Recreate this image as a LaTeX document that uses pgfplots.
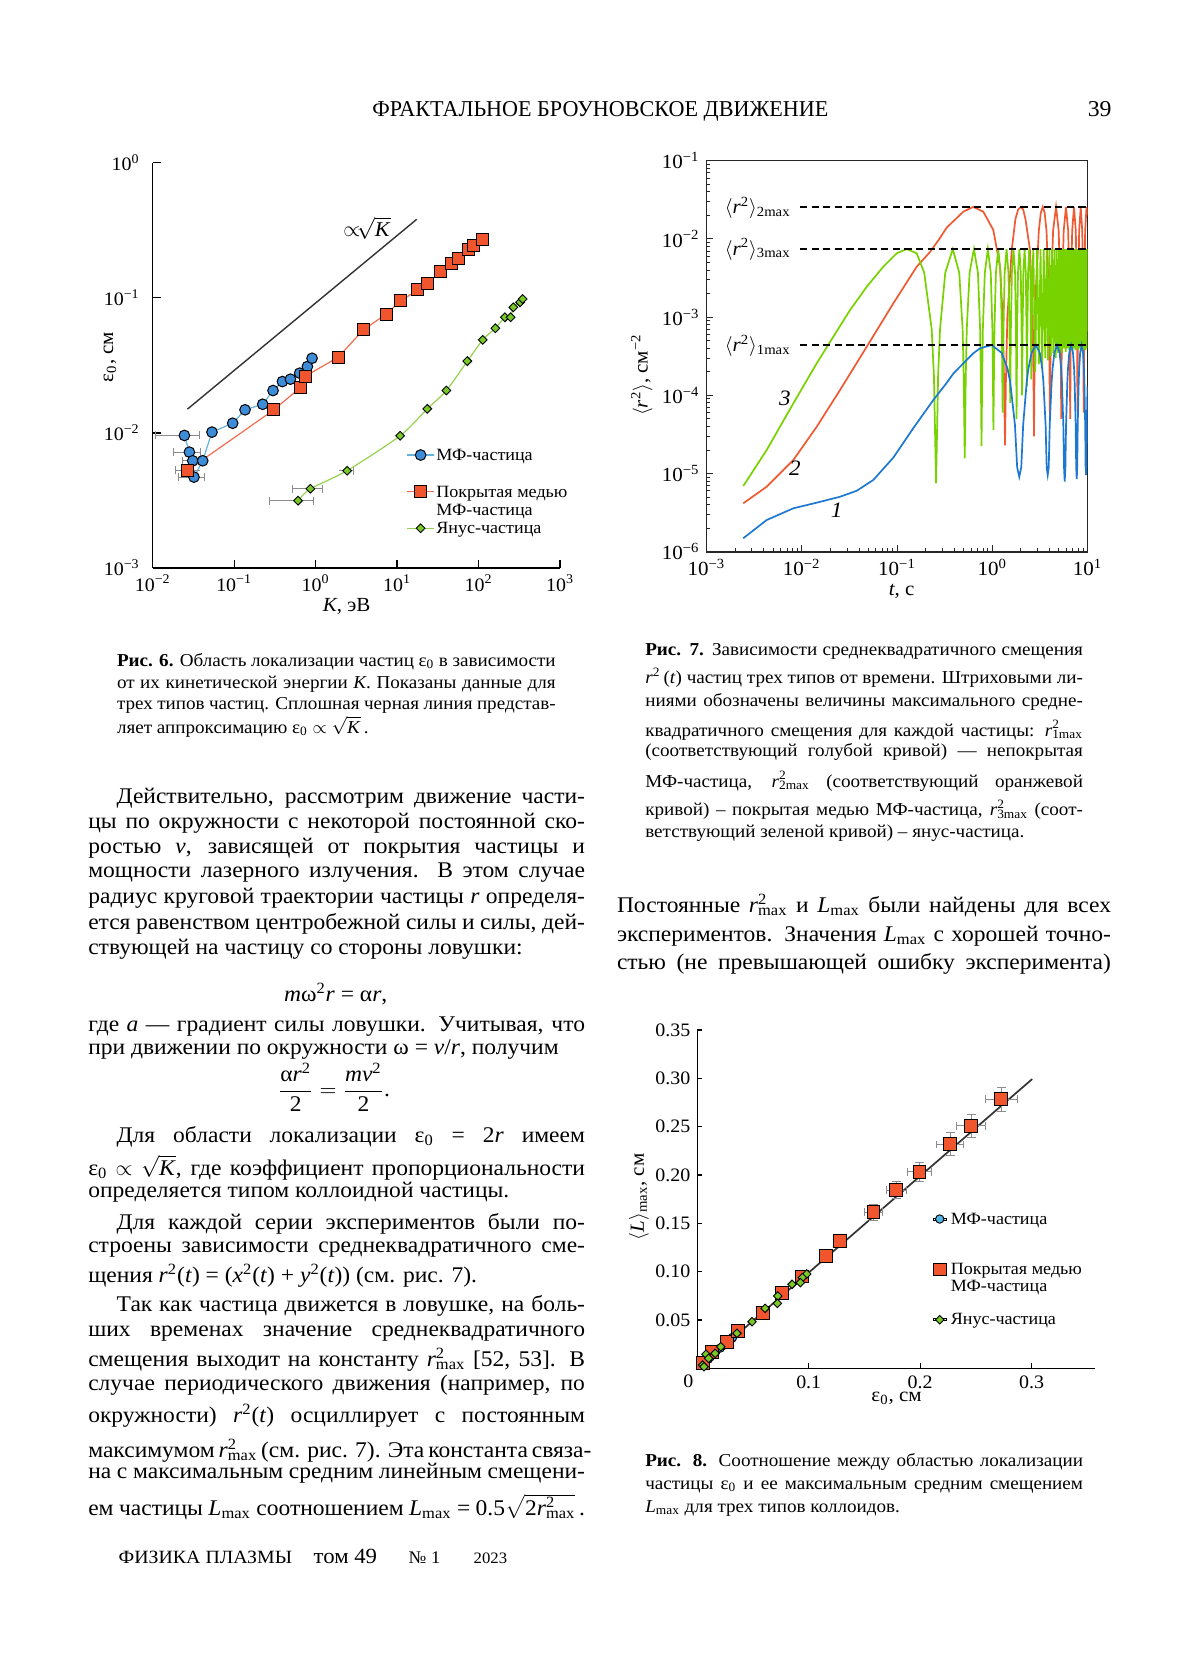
\documentclass[border=0pt]{standalone}
\usepackage{fontspec}
\setmainfont[FakeStretch=1.05]{Liberation Serif}
\usepackage{graphicx}
\usepackage{pgfplots}
\pgfplotsset{compat=1.18}

\definecolor{fblue}{HTML}{3C8CD7}
\definecolor{fblueL}{HTML}{64B4E1}
\definecolor{forange}{HTML}{F0552D}
\definecolor{forangeL}{HTML}{F06E50}
\definecolor{fgreen}{HTML}{78C828}
\definecolor{fgreenL}{HTML}{96D250}
\definecolor{cgreen}{HTML}{78D200}
\definecolor{corange}{HTML}{F05A32}
\definecolor{cblue}{HTML}{1E78D2}
\definecolor{lblue}{HTML}{50B4E6}

\newcommand\bodyf{\fontsize{11.2bp}{13.5bp}\selectfont}
\newcommand\capf{\fontsize{9.1bp}{11bp}\selectfont}
\newcommand\TF{\bodyf}
\newcommand\J[4]{\node[anchor=base west,inner sep=0pt,outer sep=0pt] at (#1,-#2) {\TF\makebox[#3][s]{#4}};}
\newcommand\Lt[3]{\node[anchor=base west,inner sep=0pt,outer sep=0pt] at (#1,-#2) {\TF #3};}
\newcommand\rmx[1]{\textit{r}\rlap{\textsuperscript{2}}\textsubscript{#1max}}
\newcommand\Lmax{\textit{L}\textsubscript{max}}
\newcommand\ez{ε\textsubscript{0}}
\newcommand\sK{$\sqrt{\mbox{\textit{K}}}$}
\newcommand\tlf{\fontsize{9.5bp}{10bp}\selectfont}

\begin{document}
\begin{tikzpicture}[x=0.5bp,y=0.5bp]
\fill[white] (0,0) rectangle (1200,-1669);

% ---------------- header / footer
\node[anchor=base west,inner sep=0pt] at (372,-116) {\resizebox{228bp}{7.5bp}{ФРАКТАЛЬНОЕ БРОУНОВСКОЕ ДВИЖЕНИЕ}};
\node[anchor=base east,inner sep=0pt] at (1112,-116) {\resizebox{!}{7.5bp}{39}};
\node[anchor=base west,inner sep=0pt] at (118.3,-1563) {\resizebox{86.7bp}{6.2bp}{ФИЗИКА ПЛАЗМЫ}};
\node[anchor=base west,inner sep=0pt] at (313.3,-1563) {\resizebox{31.7bp}{!}{том 49}};
\node[anchor=base west,inner sep=0pt] at (408.3,-1563) {\resizebox{15.85bp}{!}{№ 1}};
\node[anchor=base west,inner sep=0pt] at (473.3,-1563) {\resizebox{16.7bp}{!}{2023}};

% ---------------- Fig. 6
\begin{axis}[
  at={(76.35bp,-284bp)}, anchor=south west, scale only axis,
  width=203.65bp, height=202.65bp,
  xmode=log, ymode=log, xmin=1e-2, xmax=1e3, ymin=1e-3, ymax=1,
  axis x line*=bottom, axis y line*=left,
  x axis line style={-}, y axis line style={-},
  axis line style={line width=0.7bp, black},
  tick align=inside, major tick length=4bp,
  minor tick style={draw=none},
  every tick/.style={black, line width=0.6bp},
  xtick={1e-2,1e-1,1,10,100,1000},
  xticklabels={10\textsuperscript{−2},10\textsuperscript{−1},10\textsuperscript{0},10\textsuperscript{1},10\textsuperscript{2},10\textsuperscript{3}},
  ytick={1e-3,1e-2,1e-1,1},
  yticklabels={10\textsuperscript{−3},10\textsuperscript{−2},10\textsuperscript{−1},10\textsuperscript{0}},
  tick label style={font=\tlf},
  yticklabel style={xshift=-3bp},
  xlabel={\textit{K}, эВ}, ylabel={\ez, см},
  label style={font=\fontsize{10bp}{11bp}\selectfont},
  xlabel style={at={(axis description cs:0.476,-0.0955)}, anchor=center},
  ylabel style={at={(axis description cs:-0.105,0.521)}, anchor=center},
  legend style={at={(0.6236,0.3014)}, anchor=north west, draw=none, fill=none,
    inner sep=0pt, outer sep=0pt, row sep=0pt, column sep=0.85bp,
    font=\fontsize{8.6bp}{9bp}\selectfont,
    nodes={inner sep=0pt, text height=7.425bp, text depth=1.725bp}},
  legend cell align=left,
  legend image code/.code={\draw[mark repeat=2,mark phase=2,#1] plot coordinates {(0bp,0bp) (6.675bp,0bp) (13.35bp,0bp)};},
  unbounded coords=jump,
]
% horizontal error bars (bar + caps)
\addplot[black!45, line width=0.5bp, forget plot] coordinates {
 (0.0107,0.00958) (0.0374,0.00958) (nan,nan) (0.0107,0.00895) (0.0107,0.01025) (nan,nan) (0.0374,0.00895) (0.0374,0.01025) (nan,nan)
 (0.01795,0.00721) (0.0381,0.00721) (nan,nan) (0.01795,0.00674) (0.01795,0.00771) (nan,nan) (0.0381,0.00674) (0.0381,0.00771) (nan,nan)
 (0.0233,0.00622) (0.0381,0.00622) (nan,nan) (0.0233,0.00581) (0.0233,0.00666) (nan,nan)
 (0.0206,0.00471) (0.0427,0.00471) (nan,nan) (0.0206,0.0044) (0.0206,0.00504) (nan,nan) (0.0427,0.0044) (0.0427,0.00504) (nan,nan)
 (0.0193,0.00528) (0.0381,0.00528) (nan,nan) (0.0193,0.00493) (0.0193,0.00565) (nan,nan)
 (0.275,0.00315) (0.938,0.00315) (nan,nan) (0.275,0.00294) (0.275,0.00337) (nan,nan) (0.938,0.00294) (0.938,0.00337) (nan,nan)
 (0.518,0.00386) (1.21,0.00386) (nan,nan) (0.518,0.00361) (0.518,0.00413) (nan,nan) (1.21,0.00361) (1.21,0.00413) (nan,nan)
 (1.94,0.00525) (2.90,0.00525) (nan,nan) (2.90,0.00491) (2.90,0.00562)
 };
\addplot[fblueL, line width=0.6bp, mark=*, mark size=2.67bp, mark options={fill=fblue, draw=black, line width=0.5bp}] coordinates {
 (0.0245,0.00958) (0.0282,0.00721) (0.0310,0.00622) (0.0321,0.00471) (0.0411,0.00622)
 (0.0534,0.01014) (0.0959,0.0118) (0.136,0.01483) (0.224,0.0163) (0.300,0.0206)
 (0.391,0.0240) (0.490,0.0250) (0.637,0.0277) (0.792,0.0310) (0.904,0.0357)};
\addlegendentry{МФ-частица}
\addlegendimage{empty legend}\addlegendentry{}
\addplot[forangeL, line width=0.6bp, mark=square*, mark size=3bp, mark options={fill=forange, draw=black, line width=0.5bp}] coordinates {
 (0.0267,0.00528) (0.308,0.01483) (0.656,0.0218) (0.741,0.0262) (1.90,0.0364)
 (3.85,0.0579) (7.31,0.0756) (11.07,0.0948) (17.9,0.1144) (23.3,0.1267)
 (34.3,0.1563) (46.8,0.178) (56.5,0.196) (75,0.226) (87.9,0.246) (111.4,0.268)};
\addlegendentry{Покрытая медью}
\addlegendimage{empty legend}\addlegendentry{МФ-частица}
\addplot[fgreenL, line width=0.6bp, smooth, tension=0.4, mark=square*, mark size=1.55bp, mark options={rotate=45, fill=fgreen, draw=black, line width=0.45bp}] coordinates {
 (0.608,0.00315) (0.861,0.00386) (2.43,0.00525) (10.9,0.00952) (23.5,0.01508)
 (40.3,0.0206) (72.9,0.0340) (112.5,0.0489) (160.7,0.0596) (211,0.0718)
 (248,0.0718) (267,0.0851) (323,0.0927) (348,0.0981)};
\addlegendentry{Янус-частица}
\addplot[black!80, line width=0.7bp, forget plot] coordinates {(0.0267,0.0150) (17.4,0.381)};
\end{axis}
\node[font=\fontsize{10.5bp}{11bp}\selectfont] at (367,-228) {$\propto\!$\sK};

% ---------------- Fig. 7
\begin{axis}[
  at={(353.25bp,-275.9bp)}, anchor=south west, scale only axis,
  width=190.5bp, height=195.55bp,
  xmode=log, ymode=log, xmin=1e-3, xmax=10, ymin=1e-6, ymax=0.1,
  axis line style={line width=0.7bp, black!85},
  tick pos=left, tick align=inside,
  major tick length=3.3bp, minor tick length=1.8bp,
  every tick/.style={black!85, line width=0.5bp},
  xtick={1e-3,1e-2,1e-1,1,10},
  xticklabels={10\textsuperscript{−3},10\textsuperscript{−2},10\textsuperscript{−1},10\textsuperscript{0},10\textsuperscript{1}},
  ytick={1e-6,1e-5,1e-4,1e-3,1e-2,1e-1},
  yticklabels={10\textsuperscript{−6},10\textsuperscript{−5},10\textsuperscript{−4},10\textsuperscript{−3},10\textsuperscript{−2},10\textsuperscript{−1}},
  tick label style={font=\fontsize{10bp}{11bp}\selectfont},
  xlabel={\textit{t}, с}, ylabel={$\langle$\textit{r}\textsuperscript{2}$\rangle$, см\textsuperscript{−2}},
  label style={font=\fontsize{10bp}{11bp}\selectfont},
  xlabel style={at={(axis description cs:0.512,-0.1002)}, anchor=center},
  ylabel style={at={(axis description cs:-0.17,0.452)}, anchor=center},
]
\addplot[corange, line width=0.85bp] coordinates {
 (0.00243,4.17e-6) (0.00428,6.8e-6) (0.00815,1.49e-5) (0.01435,3.97e-5) (0.0252,1.17e-4)
 (0.0481,4.19e-4) (0.0914,1.5e-3) (0.161,4.42e-3) (0.222,6.8e-3) (0.278,0.0100)
 (0.333,0.0140) (0.497,0.0223) (0.632,0.0257) (0.805,0.0223) (1.026,0.013)
 (1.206,4.4e-3) (1.286,1.0e-3) (1.33,1.5e-4) (1.36,2.3e-5) (1.39,1.5e-4) (1.44,1.0e-3)
 (1.60,7.2e-3) (1.75,0.0180) (1.87,0.0237) (1.99,0.0257) (2.11,0.0237) (2.23,0.0180)
 (2.49,7.2e-3) (2.66,1.0e-3) (2.71,1.5e-4) (2.74,3.0e-5) (2.77,1.5e-4) (2.82,1.0e-3)
 (2.876,2.4e-3) (3.08,0.0127) (3.23,0.0215) (3.39,0.0257) (3.55,0.0215) (3.71,0.0127)
 (3.90,2.4e-3) (3.966,6e-4) (4.004,1e-4) (4.03,4.8e-5) (4.056,1e-4) (4.094,6e-4)
 (4.158,2.4e-3) (4.35,0.0127) (4.67,0.0257) (4.98,0.0127) (5.172,2.4e-3) (5.236,6e-4)
 (5.274,1e-4) (5.30,5e-5) (5.326,1e-4) (5.364,6e-4) (5.428,2.4e-3) (5.62,0.0127)
 (5.94,0.0257) (6.26,0.0127) (6.452,2.4e-3) (6.516,6e-4) (6.554,1e-4) (6.58,5e-5)
 (6.606,1e-4) (6.644,6e-4) (6.708,2.4e-3) (6.90,0.0127) (7.21,0.0257) (7.53,0.0127)
 (7.722,2.4e-3) (7.786,6e-4) (7.824,1e-4) (7.85,6e-5) (7.876,1e-4) (7.914,6e-4)
 (7.978,2.4e-3) (8.17,0.0127) (8.48,0.0257) (8.80,0.0127) (8.992,2.4e-3) (9.056,6e-4)
 (9.094,1e-4) (9.12,6e-5) (9.146,1e-4) (9.184,6e-4) (9.248,2.4e-3) (9.44,0.0127)
 (9.76,0.0257) (10,0.02)};
\addplot[cgreen, line width=0.85bp] coordinates {
 (0.00243,6.93e-6) (0.00428,2.0e-5) (0.00815,7.9e-5) (0.01435,2.57e-4) (0.0214,5.6e-4)
 (0.0321,1.23e-3) (0.0481,2.45e-3) (0.0718,4.42e-3) (0.0993,6.55e-3) (0.1265,7.43e-3)
 (0.161,6.55e-3) (0.193,3.7e-3) (0.231,7.1e-4) (0.244,1.8e-4) (0.257,7.5e-6) (0.270,1.8e-4)
 (0.283,7.1e-4) (0.321,3.7e-3) (0.385,7.43e-3)
 (0.450,3.7e-3) (0.488,7.1e-4) (0.501,1.8e-4) (0.514,1.57e-5) (0.527,1.8e-4) (0.540,7.1e-4) (0.578,3.7e-3) (0.642,7.43e-3)
 (0.707,3.7e-3) (0.745,7.1e-4) (0.758,1.8e-4) (0.771,2.25e-5) (0.784,1.8e-4) (0.797,7.1e-4) (0.835,3.7e-3) (0.899,7.43e-3)
 (0.964,3.7e-3) (1.002,7.1e-4) (1.015,1.8e-4) (1.028,3.6e-5) (1.041,1.8e-4) (1.054,7.1e-4) (1.092,3.7e-3) (1.156,7.43e-3)
 (1.221,3.7e-3) (1.259,7.1e-4) (1.272,2.0e-4) (1.285,6e-5) (1.298,2.0e-4) (1.311,7.1e-4) (1.349,3.7e-3) (1.413,7.43e-3)
 (1.478,3.7e-3) (1.516,7.1e-4) (1.542,8e-5) (1.568,7.1e-4) (1.606,3.7e-3) (1.670,7.43e-3)
 (1.735,3.7e-3) (1.773,7.1e-4) (1.799,5e-5) (1.825,7.1e-4) (1.863,3.7e-3) (1.927,7.43e-3)
 (1.992,3.7e-3) (2.030,7.1e-4) (2.056,1e-4) (2.082,7.1e-4) (2.120,3.7e-3) (2.184,7.43e-3)
 (2.249,3.7e-3) (2.287,7.1e-4) (2.313,1.3e-4) (2.339,7.1e-4) (2.377,3.7e-3) (2.441,7.43e-3)
 (2.506,3.7e-3) (2.544,7.1e-4) (2.570,1.6e-4) (2.596,7.1e-4) (2.634,3.7e-3) (2.698,7.43e-3)
 (2.827,2e-4) (2.955,7.43e-3) (3.084,2.5e-4) (3.212,7.43e-3) (3.341,2.2e-4) (3.469,7.43e-3)
 (3.598,3e-4) (3.726,7.43e-3) (3.855,2.8e-4) (3.983,7.43e-3) (4.112,3.2e-4) (4.240,7.43e-3)
 (4.369,3.5e-4) (4.497,7.43e-3) (4.626,3e-4) (4.754,7.43e-3) (4.883,3.5e-4) (5.011,7.43e-3)
 (5.140,3.8e-4) (5.268,7.43e-3) (5.397,3.5e-4) (5.525,7.43e-3) (5.654,4e-4) (5.782,7.43e-3)
 (5.911,3.6e-4) (6.039,7.43e-3) (6.168,4e-4) (6.296,7.43e-3) (6.425,3.8e-4) (6.553,7.43e-3)
 (6.682,4e-4) (6.810,7.43e-3) (6.939,3.7e-4) (7.067,7.43e-3) (7.196,4e-4) (7.324,7.43e-3)
 (7.453,3.8e-4) (7.581,7.43e-3) (7.710,4e-4) (7.838,7.43e-3) (7.967,3.8e-4) (8.095,7.43e-3)
 (8.224,4e-4) (8.352,7.43e-3) (8.481,3.8e-4) (8.609,7.43e-3) (8.738,4e-4) (8.866,7.43e-3)
 (8.995,3.8e-4) (9.123,7.43e-3) (9.252,4e-4) (9.380,7.43e-3) (9.509,3.8e-4) (9.637,7.43e-3)
 (9.766,4e-4) (9.894,7.43e-3) (10,3e-3)};
\addplot[cblue, line width=0.85bp] coordinates {
 (0.00243,1.49e-6) (0.00428,2.55e-6) (0.00815,3.6e-6) (0.01435,4.25e-6) (0.0252,5.06e-6)
 (0.0378,6.04e-6) (0.0564,8.3e-6) (0.0914,1.6e-5) (0.148,3.8e-5) (0.240,8.7e-5)
 (0.333,1.45e-4) (0.390,1.9e-4) (0.497,2.57e-4) (0.632,3.45e-4) (0.743,4.0e-4) (0.987,4.4e-4)
 (1.255,3.5e-4) (1.445,2.2e-4) (1.54,1.5e-4) (1.73,4.2e-5) (1.825,1.2e-5) (1.92,9.1e-6)
 (2.015,1.2e-5) (2.11,4.2e-5) (2.30,1.5e-4) (2.395,2.2e-4) (2.585,3.5e-4) (2.87,4.4e-4)
 (3.155,3.5e-4) (3.345,2.2e-4) (3.44,1.5e-4) (3.63,4.2e-5) (3.725,1.2e-5) (3.82,9.6e-6)
 (3.915,1.2e-5) (4.01,4.2e-5) (4.20,1.5e-4) (4.295,2.2e-4) (4.485,3.5e-4) (4.79,4.4e-4)
 (5.095,3.5e-4) (5.285,2.2e-4) (5.38,1.5e-4) (5.57,4.2e-5) (5.665,1.2e-5) (5.76,7.9e-6)
 (5.855,1.2e-5) (5.95,4.2e-5) (6.14,1.5e-4) (6.235,2.2e-4) (6.425,3.5e-4) (6.73,4.4e-4)
 (7.035,3.5e-4) (7.225,2.2e-4) (7.32,1.5e-4) (7.51,4.2e-5) (7.605,1.2e-5) (7.70,8.5e-6)
 (7.795,1.2e-5) (7.89,4.2e-5) (8.08,1.5e-4) (8.175,2.2e-4) (8.365,3.5e-4) (8.67,4.4e-4)
 (8.975,3.5e-4) (9.165,2.2e-4) (9.26,1.5e-4) (9.45,4.2e-5) (9.545,1.2e-5) (9.64,9.6e-6)
 (9.735,1.2e-5) (9.83,4.2e-5) (10,1.3e-4)};
\addplot[black, line width=0.9bp, dash pattern=on 3.6bp off 2.2bp] coordinates {(0.0096,0.0259) (10,0.0259)};
\addplot[black, line width=0.9bp, dash pattern=on 3.6bp off 2.2bp] coordinates {(0.0096,0.00745) (10,0.00745)};
\addplot[black, line width=0.9bp, dash pattern=on 3.6bp off 2.2bp] coordinates {(0.0096,0.000444) (10,0.000444)};
\end{axis}
\begin{scope}[every node/.style={font=\fontsize{10bp}{11bp}\selectfont, inner sep=0pt}]
\node[anchor=base east] at (791,-213.3) {$\langle$\textit{r}\textsuperscript{2}$\rangle$\textsubscript{2max}};
\node[anchor=base east] at (791,-255) {$\langle$\textit{r}\textsuperscript{2}$\rangle$\textsubscript{3max}};
\node[anchor=base east] at (791,-351.7) {$\langle$\textit{r}\textsuperscript{2}$\rangle$\textsubscript{1max}};
\node[font=\fontsize{11bp}{12bp}\itshape] at (785,-398.3) {3};
\node[font=\fontsize{11bp}{12bp}\itshape] at (795,-468.3) {2};
\node[font=\fontsize{11bp}{12bp}\itshape] at (836.7,-510) {1};
\end{scope}

% ---------------- Fig. 8
\begin{axis}[
  at={(348.65bp,-684.15bp)}, anchor=south west, scale only axis,
  width=198.85bp, height=169.15bp,
  xmin=0, xmax=0.357, ymin=0, ymax=0.35,
  axis x line*=bottom, axis y line*=left,
  x axis line style={-}, y axis line style={-},
  axis line style={line width=0.7bp, black},
  tick align=inside, major tick length=2.5bp,
  every tick/.style={black, line width=0.6bp},
  xtick={0.1,0.2,0.3}, xticklabels={0.1,0.2,0.3},
  ytick={0.05,0.10,0.15,0.20,0.25,0.30,0.35},
  yticklabels={0.05,0.10,0.15,0.20,0.25,0.30,0.35},
  tick label style={font=\tlf},
  xlabel={\ez, см}, ylabel={$\langle$\textit{L}$\rangle$\textsubscript{max}, см},
  label style={font=\fontsize{10bp}{11bp}\selectfont},
  xlabel style={at={(axis description cs:0.501,-0.0878)}, anchor=center},
  ylabel style={at={(axis description cs:-0.147,0.507)}, anchor=center},
  legend style={at={(0.5919,0.4662)}, anchor=north west, draw=none, fill=none,
    inner sep=0pt, outer sep=0pt, row sep=0pt, column sep=2.05bp,
    font=\fontsize{8.6bp}{9bp}\selectfont,
    nodes={inner sep=0pt, text height=6.7bp, text depth=1.7bp}},
  legend cell align=left,
  legend image code/.code={\path (0bp,-0.5bp) rectangle (6.6bp,0.5bp); \draw[#1] plot coordinates {(3.3bp,0bp)};},
  unbounded coords=jump,
]
\addplot[black!80, line width=0.85bp, forget plot] coordinates {(0.0024,0.0017) (0.3006,0.2993)};
% error bars (bars + caps)
\addplot[black!45, line width=0.5bp, forget plot] coordinates {
 (0.2583,0.2783) (0.2873,0.2783) (nan,nan) (0.2728,0.2657) (0.2728,0.2909) (nan,nan)
 (0.2583,0.2743) (0.2583,0.2823) (nan,nan) (0.2873,0.2743) (0.2873,0.2823) (nan,nan)
 (0.2688,0.2657) (0.2768,0.2657) (nan,nan) (0.2688,0.2909) (0.2768,0.2909) (nan,nan)
 (0.2328,0.2510) (0.2588,0.2510) (nan,nan) (0.2458,0.2390) (0.2458,0.2630) (nan,nan)
 (0.2328,0.2470) (0.2328,0.2550) (nan,nan) (0.2588,0.2470) (0.2588,0.2550) (nan,nan)
 (0.2418,0.2390) (0.2498,0.2390) (nan,nan) (0.2418,0.2630) (0.2498,0.2630) (nan,nan)
 (0.2149,0.2317) (0.2389,0.2317) (nan,nan) (0.2269,0.2197) (0.2269,0.2437) (nan,nan)
 (0.2149,0.2277) (0.2149,0.2357) (nan,nan) (0.2389,0.2277) (0.2389,0.2357) (nan,nan)
 (0.2229,0.2197) (0.2309,0.2197) (nan,nan) (0.2229,0.2437) (0.2309,0.2437) (nan,nan)
 (0.1889,0.2034) (0.2099,0.2034) (nan,nan) (0.1994,0.1934) (0.1994,0.2134) (nan,nan)
 (0.1889,0.1994) (0.1889,0.2074) (nan,nan) (0.2099,0.1994) (0.2099,0.2074) (nan,nan)
 (0.1954,0.1934) (0.2034,0.1934) (nan,nan) (0.1954,0.2134) (0.2034,0.2134) (nan,nan)
 (0.1694,0.1845) (0.1874,0.1845) (nan,nan) (0.1784,0.1759) (0.1784,0.1931) (nan,nan)
 (0.1694,0.1805) (0.1694,0.1885) (nan,nan) (0.1874,0.1805) (0.1874,0.1885) (nan,nan)
 (0.1744,0.1759) (0.1824,0.1759) (nan,nan) (0.1744,0.1931) (0.1824,0.1931) (nan,nan)
 (0.1501,0.1614) (0.1661,0.1614) (nan,nan) (0.1581,0.1534) (0.1581,0.1694) (nan,nan)
 (0.1501,0.1574) (0.1501,0.1654) (nan,nan) (0.1661,0.1574) (0.1661,0.1654) (nan,nan)
 (0.1541,0.1534) (0.1621,0.1534) (nan,nan) (0.1541,0.1694) (0.1621,0.1694) (nan,nan)
 (0.1231,0.1321) (0.1331,0.1321) (nan,nan) (0.1281,0.1261) (0.1281,0.1381) (nan,nan)
 (0.1241,0.1381) (0.1321,0.1381) (nan,nan)
 (0.1116,0.1162) (0.1196,0.1162) (nan,nan) (0.1156,0.1112) (0.1156,0.1212)
 };
\addplot[only marks, mark=*, mark size=2.1bp, mark options={fill=lblue, draw=black, line width=0.45bp}] coordinates {
 (0.005,0.0047) (0.0062,0.006) (0.0068,0.0065) (0.0098,0.0096) (0.0101,0.0101) (0.0118,0.012)
 (0.0148,0.015) (0.016,0.0163) (0.0206,0.021) (0.024,0.024) (0.025,0.0255) (0.028,0.028)
 (0.031,0.031) (0.0317,0.0321) (0.0357,0.036)};
\addlegendentry{МФ-частица}
\addlegendimage{empty legend}\addlegendentry{}
\addlegendimage{empty legend}\addlegendentry{}
\addplot[only marks, mark=square*, mark size=3.2bp, mark options={fill=forange, draw=black, line width=0.5bp}] coordinates {
 (0.0054,0.0052) (0.0129,0.0172) (0.0269,0.0276) (0.0368,0.0386) (0.0587,0.0569) (0.0763,0.0776)
 (0.094,0.095) (0.1156,0.1162) (0.1281,0.1321) (0.1581,0.1614) (0.1784,0.1845) (0.1994,0.2034)
 (0.2269,0.2317) (0.2458,0.2510) (0.2728,0.2783)};
\addlegendentry{Покрытая медью}
\addlegendimage{empty legend}\addlegendentry{МФ-частица}
\addlegendimage{empty legend}\addlegendentry{}
\addplot[only marks, mark=square*, mark size=1.5bp, mark options={rotate=45, fill=fgreen, draw=black, line width=0.45bp}] coordinates {
 (0.0982,0.0976) (0.0943,0.0938) (0.0925,0.0886) (0.0850,0.0869) (0.0722,0.0748) (0.0719,0.0672)
 (0.0608,0.0621) (0.0491,0.0483) (0.0356,0.0362) (0.0210,0.0224) (0.0159,0.0155) (0.0078,0.0145)
 (0.0102,0.0103) (0.0048,0.0034) (0.006,0.0017)};
\addlegendentry{Янус-частица}
\end{axis}
\node[font=\tlf] at (688.3,-1381.7) {0};

% ---------------- Captions
\renewcommand\TF{\capf}
\J{117}{666}{219.35bp}{\textbf{Рис. 6.} Область локализации частиц \ez{} в зависимости}
\J{117}{688.6}{219.35bp}{от их кинетической энергии \textit{K}. Показаны данные для}
\J{117}{709}{219.35bp}{трех типов частиц. Сплошная черная линия представ-}
\Lt{117}{733}{ляет аппроксимацию \ez{} $\propto$ \sK\,.}

\J{645.3}{655}{218.85bp}{\textbf{Рис. 7.} Зависимости среднеквадратичного смещения}
\J{645.3}{683.7}{218.85bp}{\textit{r}\textsuperscript{2}\,(\textit{t}) частиц трех типов от времени. Штриховыми ли-}
\J{645.3}{706}{218.85bp}{ниями обозначены величины максимального средне-}
\J{645.3}{736}{218.85bp}{квадратичного смещения для каждой частицы: \rmx{1}}
\J{645.3}{756}{218.85bp}{(соответствующий голубой кривой) — непокрытая}
\J{645.3}{787}{218.85bp}{МФ-частица, \rmx{2} (соответствующий оранжевой}
\J{645.3}{815.8}{218.85bp}{кривой) – покрытая медью МФ-частица, \rmx{3} (соот-}
\Lt{645.3}{837}{ветствующий зеленой кривой) – янус-частица.}

\J{645.3}{1466}{218.85bp}{\textbf{Рис. 8.} Соотношение между областью локализации}
\J{645.3}{1489}{218.85bp}{частицы \ez{} и ее максимальным средним смещением}
\Lt{645.3}{1512.5}{\Lmax{} для трех типов коллоидов.}

% ---------------- Body, left column
\renewcommand\TF{\bodyf}
\J{116.7}{803.3}{234.15bp}{Действительно, рассмотрим движение части-}
\J{88.3}{828.1}{248.35bp}{цы по окружности с некоторой постоянной ско-}
\J{88.3}{853.5}{248.35bp}{ростью \textit{v}, зависящей от покрытия частицы и}
\J{88.3}{877.5}{248.35bp}{мощности лазерного излучения. В этом случае}
\J{88.3}{903}{248.35bp}{радиус круговой траектории частицы \textit{r} определя-}
\J{88.3}{929}{248.35bp}{ется равенством центробежной силы и силы, дей-}
\Lt{88.3}{954}{ствующей на частицу со стороны ловушки:}
\node[anchor=base,inner sep=0pt,font=\bodyf] at (335.7,-1001) {\textit{m}ω\textsuperscript{2}\textit{r} = α\textit{r},};
\J{88.3}{1031}{248.35bp}{где \textit{a} — градиент силы ловушки. Учитывая, что}
\Lt{88.3}{1054.3}{при движении по окружности ω = \textit{v}/\textit{r}, получим}
\node[anchor=base,inner sep=0pt,font=\bodyf] at (334,-1096.5) {$\displaystyle\frac{\mbox{α\textit{r}\textsuperscript{2}}}{\mbox{2}} = \frac{\mbox{\textit{mv}\textsuperscript{2}}}{\mbox{2}}$.};
\J{116.7}{1142}{234.15bp}{Для области локализации \ez{} = 2\textit{r} имеем}
\J{88.3}{1175}{248.35bp}{\ez{} $\propto$ \sK, где коэффициент пропорциональности}
\Lt{88.3}{1197.7}{определяется типом коллоидной частицы.}
\J{116.7}{1229.3}{234.15bp}{Для каждой серии экспериментов были по-}
\J{88.3}{1252}{248.35bp}{строены зависимости среднеквадратичного сме-}
\Lt{88.3}{1282.6}{щения \textit{r}\textsuperscript{2}(\textit{t}) = (\textit{x}\textsuperscript{2}(\textit{t}) + \textit{y}\textsuperscript{2}(\textit{t})) (см. рис. 7).}
\J{116.7}{1311.5}{234.15bp}{Так как частица движется в ловушке, на боль-}
\J{88.3}{1336}{248.35bp}{ших временах значение среднеквадратичного}
\J{88.3}{1366.5}{248.35bp}{смещения выходит на константу \rmx{} [52, 53]. В}
\J{88.3}{1390}{248.35bp}{случае периодического движения (например, по}
\J{88.3}{1422.6}{248.35bp}{окружности) \textit{r}\textsuperscript{2}(\textit{t}) осциллирует с постоянным}
\J{88.3}{1457}{248.35bp}{максимумом \rmx{} (см. рис. 7). Эта константа связа-}
\J{88.3}{1478.6}{248.35bp}{на с максимальным средним линейным смещени-}
\J{88.3}{1515}{248.35bp}{ем частицы \Lmax{} соотношением \Lmax{} = 0.5$\sqrt{\mbox{2\rmx{}}}$\,.}

% ---------------- Body, right column
\J{617}{912.5}{247bp}{Постоянные \rmx{} и \Lmax{} были найдены для всех}
\J{617}{941}{247bp}{экспериментов. Значения \Lmax{} с хорошей точно-}
\J{617}{969}{247bp}{стью (не превышающей ошибку эксперимента)}
\end{tikzpicture}
\end{document}
